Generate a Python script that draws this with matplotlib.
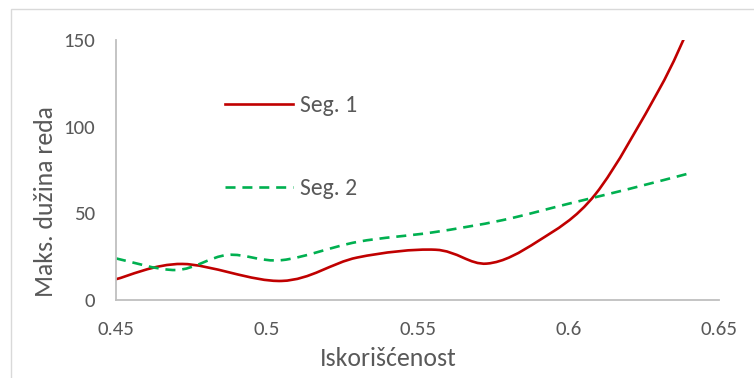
import matplotlib
matplotlib.use('Agg')
import matplotlib.pyplot as plt
import numpy as np
from matplotlib.path import Path
from matplotlib.patches import PathPatch, Rectangle
from matplotlib.lines import Line2D

# values
seg1_x = [0.45, 0.472, 0.505, 0.53, 0.556, 0.573, 0.59, 0.609, 0.63, 0.64]
seg1_y = [12, 20.8, 11, 24.5, 29, 21, 34, 61, 121, 157]
seg2_x = [0.45, 0.47, 0.487, 0.505, 0.53, 0.555, 0.578, 0.6, 0.62, 0.64]
seg2_y = [24, 17.3, 26, 23, 33.5, 39, 46, 55.5, 64, 73]
series_names = ['Seg. 1', 'Seg. 2']
x_ticks = [0.45, 0.5, 0.55, 0.6, 0.65]
x_tick_labels = ['0.45', '0.5', '0.55', '0.6', '0.65']
y_ticks = [0, 50, 100, 150]

RED = '#C00000'
GREEN = '#00B050'
GRAY = '#595959'
DASH = (0, (3.8, 2.6))

# Carlito has the same metrics as Calibri
plt.rcParams['font.family'] = ['Carlito', 'Lato', 'DejaVu Sans']


def smooth_path(xs, ys, k=1.0 / 6):
    # bezier smoothing through the points, like a spreadsheet "smoothed line"
    p = np.column_stack([xs, ys]).astype(float)
    n = len(p)
    verts = [p[0]]
    codes = [Path.MOVETO]
    for i in range(n - 1):
        p0 = p[i - 1] if i > 0 else p[i]
        p1 = p[i]
        p2 = p[i + 1]
        p3 = p[i + 2] if i + 2 < n else p[i + 1]
        c1 = p1 + (p2 - p0) * k
        c2 = p2 - (p3 - p1) * k
        verts += [c1, c2, p2]
        codes += [Path.CURVE4] * 3
    return Path(verts, codes)


fig = plt.figure(figsize=(7.54, 3.78), dpi=100)
ax = fig.add_axes([116 / 754, 1 - 300 / 378, 603 / 754, 260 / 378])

# chart frame (cut off by the image edge)
fig.add_artist(Rectangle((11 / 754, -0.1), 1.2, 1 - 9 / 378 + 0.1,
                         transform=fig.transFigure, fill=False,
                         edgecolor='#D9D9D9', linewidth=1.0))

ax.add_patch(PathPatch(smooth_path(seg1_x, seg1_y), fill=False,
                       edgecolor=RED, linewidth=1.9, capstyle='round'))
ax.add_patch(PathPatch(smooth_path(seg2_x, seg2_y), fill=False,
                       edgecolor=GREEN, linewidth=1.9, linestyle=DASH))

ax.set_xlim(0.45, 0.65)
ax.set_ylim(0, 150)
ax.set_xticks(x_ticks)
ax.set_xticklabels(x_tick_labels)
ax.set_yticks(y_ticks)
ax.tick_params(length=0, labelsize=15, labelcolor=GRAY)
ax.tick_params(axis='y', pad=15)
ax.tick_params(axis='x', pad=15)

for s in ['top', 'right']:
    ax.spines[s].set_visible(False)
for s in ['left', 'bottom']:
    ax.spines[s].set_color('#BFBFBF')
    ax.spines[s].set_linewidth(1.3)

ax.set_xlabel('Iskorišćenost', fontsize=18.5, color=GRAY, va='center')
ax.set_ylabel('Maks. dužina reda', fontsize=18.5, color=GRAY, va='center')
ax.xaxis.set_label_coords((388 - 116) / 603, (300 - 358) / 260)
ax.yaxis.set_label_coords((46 - 116) / 603, (300 - 202) / 260)

handles = [Line2D([], [], color=RED, linewidth=1.9),
           Line2D([], [], color=GREEN, linewidth=1.9, linestyle=DASH)]
leg = ax.legend(handles, series_names, loc='upper left', frameon=False,
                bbox_to_anchor=(225 / 754, 1 - 95 / 378),
                bbox_transform=fig.transFigure,
                fontsize=17, handlelength=2.88, handletextpad=0.3,
                labelspacing=2.62, borderaxespad=0, borderpad=0)
for t in leg.get_texts():
    t.set_color(GRAY)

fig.savefig('out.png', dpi=100)
